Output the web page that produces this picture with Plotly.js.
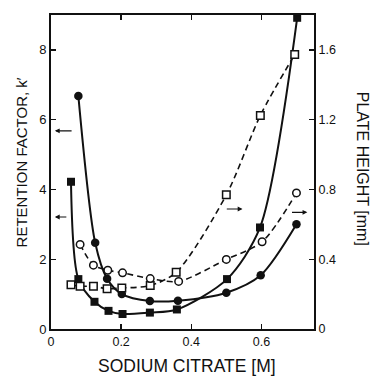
<!DOCTYPE html>
<html>
<head>
<meta charset="utf-8">
<script src="https://cdn.plot.ly/plotly-3.0.1.min.js"></script>
<style>
  html, body { margin: 0; padding: 0; background: #fff; }
  #chart { width: 373px; height: 378px; }
</style>
</head>
<body>
<div id="chart"></div>
<script>
// Sodium citrate concentration [M] for each series
const citrateFilledCircle = [0.078, 0.126, 0.160, 0.202, 0.282, 0.362, 0.500, 0.598, 0.700];
const kFilledCircle       = [6.68, 2.47, 1.44, 1.00, 0.80, 0.81, 1.04, 1.54, 3.00];

const citrateFilledSquare = [0.057, 0.078, 0.124, 0.164, 0.204, 0.282, 0.359, 0.502, 0.596, 0.702];
const kFilledSquare       = [4.22, 1.43, 0.78, 0.52, 0.43, 0.47, 0.56, 1.43, 2.91, 8.92];

const citrateOpenSquare   = [0.057, 0.083, 0.121, 0.160, 0.202, 0.283, 0.357, 0.500, 0.597, 0.695];
const hOpenSquare         = [0.254, 0.245, 0.245, 0.231, 0.235, 0.249, 0.325, 0.769, 1.224, 1.574];

const citrateOpenCircle   = [0.083, 0.121, 0.162, 0.204, 0.283, 0.364, 0.500, 0.602, 0.700];
const hOpenCircle         = [0.485, 0.366, 0.337, 0.322, 0.289, 0.273, 0.399, 0.500, 0.780];

// Axis ticks
const xTicks   = [0, 0.2, 0.4, 0.6];
const xLabels  = ["0", "0.2", "0.4", "0.6"];
const kTicks   = [0, 2, 4, 6, 8];
const kLabels  = ["0", "2", "4", "6", "8"];
const hTicks   = [0, 0.4, 0.8, 1.2, 1.6];
const hLabels  = ["0", "0.4", "0.8", "1.2", "1.6"];

const ink = "#111";
const font = "Liberation Sans, Arial, sans-serif";

const traces = [
  {
    x: citrateFilledCircle, y: kFilledCircle, yaxis: "y",
    mode: "lines+markers", type: "scatter",
    line: { color: ink, width: 2, shape: "spline", smoothing: 0.8 },
    marker: { symbol: "circle", size: 8.5, color: ink }
  },
  {
    x: citrateFilledSquare, y: kFilledSquare, yaxis: "y",
    mode: "lines+markers", type: "scatter",
    line: { color: ink, width: 2, shape: "spline", smoothing: 0.8 },
    marker: { symbol: "square", size: 8, color: ink }
  },
  {
    x: citrateOpenSquare, y: hOpenSquare, yaxis: "y2",
    mode: "lines+markers", type: "scatter",
    line: { color: ink, width: 1.6, dash: "6px,4px", shape: "spline", smoothing: 0.8 },
    marker: { symbol: "square", size: 7.5, color: "#fff", line: { color: ink, width: 1.5 } }
  },
  {
    x: citrateOpenCircle, y: hOpenCircle, yaxis: "y2",
    mode: "lines+markers", type: "scatter",
    line: { color: ink, width: 1.6, dash: "6px,4px", shape: "spline", smoothing: 0.8 },
    marker: { symbol: "circle", size: 7.5, color: "#fff", line: { color: ink, width: 1.5 } }
  }
];

// Small arrows pointing each curve to its own axis
function pointer(x, y, ax, yref) {
  return {
    x: x, y: y, ax: ax, ay: y, xref: "x", yref: yref, axref: "x", ayref: yref,
    text: "", showarrow: true, arrowhead: 2, arrowsize: 0.8, arrowwidth: 1.2, arrowcolor: ink
  };
}

const layout = {
  width: 373, height: 378,
  margin: { l: 51, r: 59, t: 15, b: 49 },
  paper_bgcolor: "#fff", plot_bgcolor: "#fff",
  showlegend: false,
  font: { family: font, size: 12.5, color: ink },
  xaxis: {
    range: [0, 0.75], tickvals: xTicks, ticktext: xLabels,
    ticks: "inside", ticklen: 5, tickwidth: 1.3, tickcolor: ink,
    showline: true, linewidth: 2, linecolor: ink, mirror: "ticks",
    showgrid: false, zeroline: false, tickfont: { size: 12.5 }
  },
  yaxis: {
    range: [0, 9], tickvals: kTicks, ticktext: kLabels,
    ticks: "inside", ticklen: 5, tickwidth: 1.3, tickcolor: ink,
    showline: true, linewidth: 2, linecolor: ink,
    showgrid: false, zeroline: false, tickfont: { size: 13 }
  },
  yaxis2: {
    range: [0, 1.8], tickvals: hTicks, ticktext: hLabels,
    overlaying: "y", side: "right",
    ticks: "inside", ticklen: 5, tickwidth: 1.3, tickcolor: ink,
    showline: true, linewidth: 2, linecolor: ink,
    showgrid: false, zeroline: false, tickfont: { size: 12.5 }
  },
  annotations: [
    { text: "SODIUM CITRATE [M]", xref: "paper", yref: "paper", x: 0.518, y: -0.118,
      xanchor: "center", yanchor: "middle", showarrow: false, font: { size: 17.5 } },
    { text: "RETENTION FACTOR, k′", xref: "paper", yref: "paper", x: -0.112, y: 0.529,
      xanchor: "center", yanchor: "middle", textangle: -90, showarrow: false, font: { size: 15 } },
    { text: "PLATE HEIGHT [mm]", xref: "paper", yref: "paper", x: 1.183, y: 0.51,
      xanchor: "center", yanchor: "middle", textangle: 90, showarrow: false, font: { size: 16 } },
    pointer(0.011, 5.68, 0.063, "y"),
    pointer(0.011, 3.21, 0.048, "y"),
    pointer(0.546, 0.688, 0.497, "y2"),
    pointer(0.731, 0.669, 0.683, "y2")
  ]
};

Plotly.newPlot("chart", traces, layout, { displayModeBar: false, staticPlot: true });
</script>
</body>
</html>
